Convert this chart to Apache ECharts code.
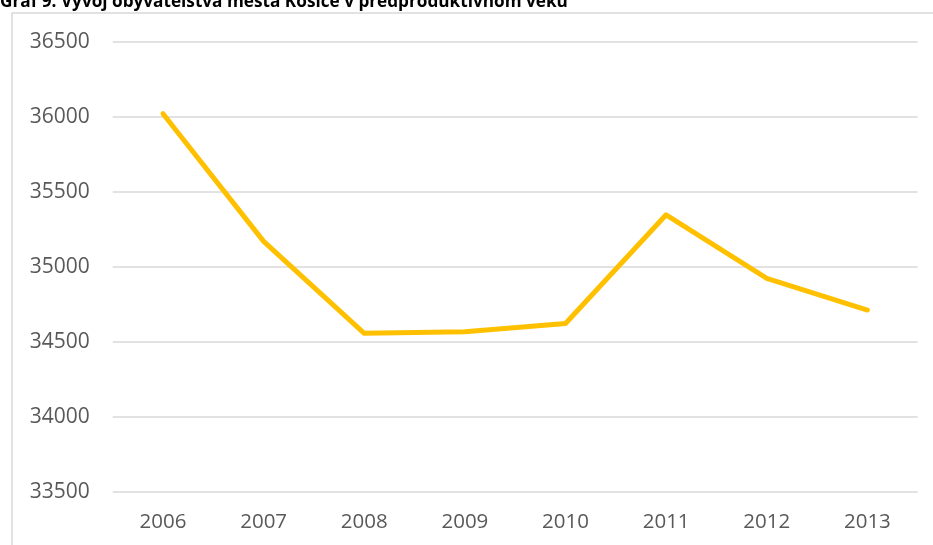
<!DOCTYPE html>
<html>
<head>
<meta charset="utf-8">
<script src="https://cdn.jsdelivr.net/npm/echarts@6/dist/echarts.min.js"></script>
<style>
html,body{margin:0;padding:0;background:#fff;}
#c{width:933px;height:545px;}
</style>
</head>
<body>
<div id="c"></div>
<script>
var titleText = 'Graf 9: Vývoj obyvateľstva mesta Košice v predproduktívnom veku';
var years = ['2006','2007','2008','2009','2010','2011','2012','2013'];
var population = [36022, 35171, 34558, 34569, 34623, 35348, 34924, 34713];
var yMin = 33500, yMax = 36500, yStep = 500;

var chart = echarts.init(document.getElementById('c'), null, {renderer:'canvas'});
chart.setOption({
  animation: false,
  backgroundColor: '#ffffff',
  graphic: [
    {
      type: 'rect', z: -1, silent: true,
      shape: {x: 12, y: 13, width: 1000, height: 600},
      style: {fill: 'none', stroke: '#d9d9d9', lineWidth: 1.5}
    },
    {
      type: 'text', silent: true,
      style: {
        x: 0, y: 11, text: titleText,
        font: 'bold 17.2px "Open Sans"', fill: '#000000',
        verticalAlign: 'bottom', align: 'left'
      }
    }
  ],
  grid: {left: 112.7, right: 15.3, top: 42, bottom: 53, containLabel: false},
  xAxis: {
    type: 'category', data: years, boundaryGap: true,
    axisLine: {show: false}, axisTick: {show: false},
    axisLabel: {color: '#595959', fontFamily: 'Open Sans', fontSize: 20.5, margin: 20}
  },
  yAxis: {
    type: 'value', min: yMin, max: yMax, interval: yStep,
    axisLine: {show: false}, axisTick: {show: false},
    axisLabel: {color: '#595959', fontFamily: 'Open Sans', fontSize: 21, margin: 23,
      formatter: function (v) { return String(v); }},
    splitLine: {show: true, lineStyle: {color: '#d9d9d9', width: 1.5}}
  },
  series: [{
    type: 'line', data: population, showSymbol: false, symbol: 'none',
    lineStyle: {color: '#FFC000', width: 5, cap: 'round', join: 'round'}
  }]
});
</script>
</body>
</html>
